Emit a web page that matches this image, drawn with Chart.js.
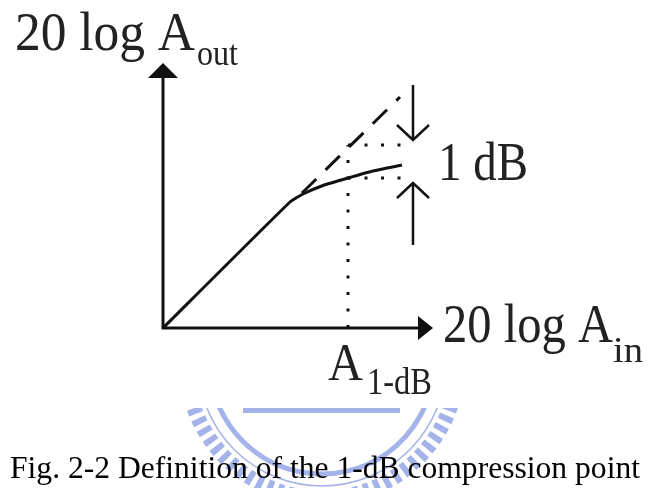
<!DOCTYPE html>
<html><head><meta charset="utf-8">
<script src="https://cdn.jsdelivr.net/npm/chart.js@4/dist/chart.umd.min.js"></script>
<style>html,body{margin:0;padding:0;background:#fff;overflow:hidden}canvas{display:block}</style>
</head><body>
<canvas id="c" width="651" height="488"></canvas>
<script>
// ---- data (arbitrary dB units) ----
const inputDb   = [0, 12.7, 14.0, 16.0, 18.5, 21.0, 23.9];
const outputDb  = [0, 12.6, 13.4, 14.25, 15.0, 15.7, 16.3];
const idealIn   = [13.9, 23.7];
const idealOut  = [13.5, 23.1];
const p1dBIn        = 18.5;
const p1dBIdealOut  = 18.3;
const p1dBActualOut = 15.0;
const dotEndX       = 25.1;
const arrowX        = 25.0;
const downArrowY    = [24.3, 18.8];
const upArrowY      = [8.3, 14.5];
const axisTipX      = 27.0;
const axisTipY      = 26.5;
// ---- text ----
const yAxisText   = ['20 log A', 'out'];
const xAxisText   = ['20 log A', 'in'];
const deltaText   = '1 dB';
const pointText   = ['A', '1-dB'];
const captionText = 'Fig. 2-2 Definition of the 1-dB compression point';

const pts = (xs, ys) => xs.map((x, i) => ({x, y: ys[i]}));
const INK = '#111';
const line = (data, extra) => Object.assign({data, showLine: true, borderColor: INK, borderWidth: 3,
  pointRadius: 0, fill: false, tension: 0}, extra || {});

const wing = 1.6, headH = 1.5;

const datasets = [
  line(pts(inputDb, outputDb), {tension: 0.15, borderWidth: 3}),
  line(pts(idealIn, idealOut), {borderDash: [20, 13], borderWidth: 3}),
  line(pts([p1dBIn, p1dBIn], [0, p1dBIdealOut]), {borderDash: [3, 13.5], borderWidth: 3}),
  line(pts([p1dBIn, dotEndX], [p1dBIdealOut, p1dBIdealOut]), {borderDash: [3, 13.5], borderWidth: 3}),
  line(pts([p1dBIn, dotEndX], [p1dBActualOut, p1dBActualOut]), {borderDash: [3, 13.5], borderWidth: 3}),
  // 1 dB arrows
  line(pts([arrowX, arrowX], downArrowY), {borderWidth: 2.5}),
  line(pts([arrowX - wing, arrowX, arrowX + wing], [downArrowY[1] + headH, downArrowY[1], downArrowY[1] + headH]), {borderWidth: 2.5}),
  line(pts([arrowX, arrowX], upArrowY), {borderWidth: 2.5}),
  line(pts([arrowX - wing, arrowX, arrowX + wing], [upArrowY[1] - headH, upArrowY[1], upArrowY[1] - headH]), {borderWidth: 2.5}),
  // axes
  line(pts([0, 0, axisTipX - 1], [axisTipY - 1, 0, 0]), {borderWidth: 3})
];

const decor = {
  id: 'decor',
  beforeDatasetsDraw(chart) {
    // faint watermark
    const ctx = chart.ctx;
    ctx.save();
    ctx.beginPath(); ctx.rect(0, 408, 651, 80); ctx.clip();
    const wm = 'rgba(125,148,226,0.7)';
    ctx.strokeStyle = wm;
    const cx = 322, cy = 362;
    ctx.lineWidth = 15; ctx.setLineDash([6, 5]);
    ctx.beginPath(); ctx.arc(cx, cy, 136, 0, Math.PI); ctx.stroke();
    ctx.setLineDash([]);
    ctx.lineWidth = 1.5;
    ctx.beginPath(); ctx.arc(cx, cy, 124, 0, Math.PI); ctx.stroke();
    ctx.lineWidth = 5;
    ctx.beginPath(); ctx.arc(cx, cy, 112, 0.15, Math.PI - 0.15); ctx.stroke();
    ctx.fillStyle = wm;
    ctx.fillRect(243, 407, 157, 6);
    ctx.restore();
  },
  afterDatasetsDraw(chart) {
    const ctx = chart.ctx, sx = chart.scales.x, sy = chart.scales.y;
    const X = v => sx.getPixelForValue(v), Y = v => sy.getPixelForValue(v);
    ctx.save();
    ctx.fillStyle = INK;
    // y-axis arrowhead
    ctx.beginPath();
    ctx.moveTo(X(0), Y(axisTipY));
    ctx.lineTo(X(0) - 15, Y(axisTipY) + 15);
    ctx.lineTo(X(0) + 15, Y(axisTipY) + 15);
    ctx.closePath(); ctx.fill();
    // x-axis arrowhead
    ctx.beginPath();
    ctx.moveTo(X(axisTipX), Y(0));
    ctx.lineTo(X(axisTipX) - 15, Y(0) - 12);
    ctx.lineTo(X(axisTipX) - 15, Y(0) + 12);
    ctx.closePath(); ctx.fill();

    const txt = (s, x, y, size, w) => {
      ctx.font = size + 'px "Liberation Serif", "Times New Roman", serif';
      const m = ctx.measureText(s).width;
      const k = w ? w / m : 1;
      ctx.save(); ctx.translate(X(x), Y(y)); ctx.scale(k, 1);
      ctx.textBaseline = 'alphabetic'; ctx.textAlign = 'left';
      ctx.fillText(s, 0, 0); ctx.restore();
    };
    ctx.fillStyle = '#222';
    txt(yAxisText[0], -14.8, 27.8, 55, 180);
    txt(yAxisText[1], 3.4, 26.3, 36, 41);
    txt(xAxisText[0], 28.0, -1.4, 55, 170);
    txt(xAxisText[1], 45.0, -3.4, 36, 30);
    txt(deltaText, 27.5, 14.8, 55, 90);
    txt(pointText[0], 16.5, -5.2, 53, 35);
    txt(pointText[1], 20.4, -6.6, 37, 65);
    ctx.fillStyle = '#000';
    txt(captionText, -15.3, -15.0, 32, 630);
    ctx.restore();
  }
};

new Chart(document.getElementById('c'), {
  type: 'scatter',
  data: {datasets},
  options: {
    responsive: false, animation: false, devicePixelRatio: 1,
    layout: {padding: 0},
    plugins: {legend: {display: false}, tooltip: {enabled: false}, title: {display: false}},
    scales: {
      x: {type: 'linear', min: -16.3, max: 48.8, display: false},
      y: {type: 'linear', min: -16.0, max: 32.8, display: false}
    },
    elements: {line: {borderCapStyle: 'butt'}}
  },
  plugins: [decor]
});
</script>
</body></html>
